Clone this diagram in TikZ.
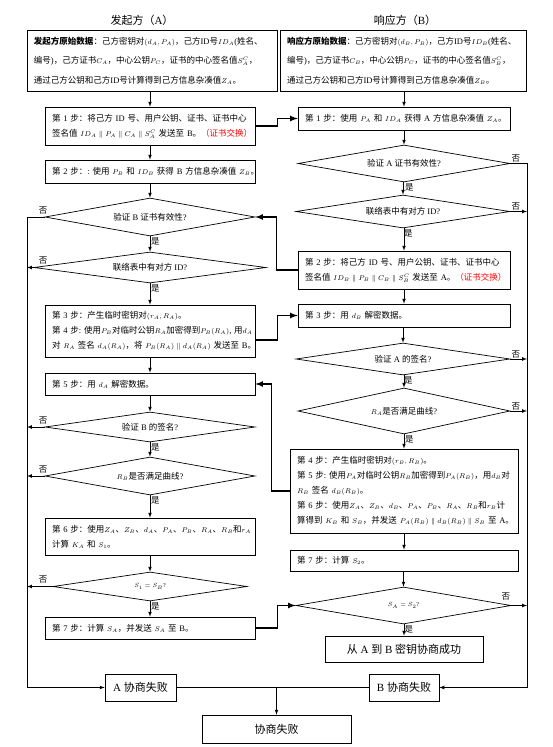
\documentclass[tikz,border=0pt]{standalone}
\usepackage{fontspec}
\setmainfont{Liberation Serif}
\newfontfamily\cjk{Noto Sans CJK SC}
\usetikzlibrary{shapes.geometric}
% Chinese characters in the CJK font, the rest in the main font
\XeTeXinterchartokenstate=1
\newXeTeXintercharclass\cjkclass
\newcount\cjkcnt
\def\cjkrange#1#2{\cjkcnt=#1\relax
  \loop\XeTeXcharclass\cjkcnt=\cjkclass\relax
  \ifnum\cjkcnt<#2\relax\advance\cjkcnt by 1\repeat}
\cjkrange{"3000}{"303F}
\cjkrange{"4E00}{"9FFF}
\cjkrange{"FF00}{"FFEF}
\XeTeXinterchartoks 0 \cjkclass = {\begingroup\cjk}
\XeTeXinterchartoks 4095 \cjkclass = {\begingroup\cjk}
\XeTeXinterchartoks \cjkclass 0 = {\endgroup}
\XeTeXinterchartoks \cjkclass 4095 = {\endgroup}
\relpenalty=10000
\binoppenalty=10000
\DeclareMathSizes{8.5}{7}{5}{5}
\newcommand\stepfont{\fontsize{8.5}{15}\selectfont}
\newcommand\datafont{\fontsize{8.5}{19.5}\selectfont}
\newcommand\bigfont{\fontsize{11}{13}\selectfont}
\begin{document}
\begin{tikzpicture}[x=1pt,y=-1pt,>=latex,
    box/.style={draw,line width=0.7pt,align=left,inner xsep=7pt,inner ysep=1pt,font=\stepfont},
    dia/.style={draw,line width=0.7pt,shape=diamond,aspect=6,inner sep=0pt,font=\stepfont},
    endbox/.style={draw,line width=0.7pt,inner sep=1pt,font=\bigfont},
    lbl/.style={inner sep=1pt,font=\stepfont},
    arr/.style={line width=0.7pt,->},
    thk/.style={line width=1.6pt,->}]
    \useasboundingbox (0,0) rectangle (553,747);
    %% Titles
    \node[font=\bigfont] (tA) at (142,20) {发起方（A）};
    \node[font=\bigfont] (tB) at (405,20) {响应方（B）};
    %% Initiator A
    \node[box,text width=236pt,minimum height=61pt,font=\datafont] (A0) at (152,60.5)
        {\textbf{发起方原始数据}：己方密钥对$(d_A,P_A)$，己方ID号$ID_A$(姓名、\\
         编号)，己方证书$C_A$，中心公钥$P_C$，证书的中心签名值$S_A^C$，\\
         通过己方公钥和己方ID号计算得到己方信息杂凑值$Z_A$。};
    \node[box,text width=196pt,minimum height=38pt] (A1) at (150,126)
        {第~1~步：将己方~ID~号、用户公钥、证书、证书中心\\
         签名值~$ID_A\parallel P_A\parallel C_A\parallel S_A^C$~发送至~B。{\color{red}（证书交换）}};
    \node[box,text width=196pt,minimum height=23pt] (A2) at (150,171.5)
        {第~2~步：:~使用~$P_B$~和~$ID_B$~获得~B~方信息杂凑值~$Z_B$。};
    \node[dia,minimum width=210pt,minimum height=38pt] (DA1) at (150,217) {验证~B~证书有效性?};
    \node[dia,minimum width=232pt,minimum height=31pt] (DA2) at (150,267.5) {联络表中有对方~ID?};
    \node[box,text width=196pt,minimum height=52pt] (A3) at (150,331)
        {第~3~步：产生临时密钥对$(r_A,R_A)$。\\
         第~4~步:~使用$P_B$对临时公钥$R_A$加密得到$P_B(R_A)$,~用$d_A$\\
         对~$R_A$~签名~$d_A(R_A)$，将~$P_B(R_A)\parallel d_A(R_A)$~发送至~B。};
    \node[box,text width=196pt,minimum height=22pt] (A5) at (150,384)
        {第~5~步：用~$d_A$~解密数据。};
    \node[dia,minimum width=210pt,minimum height=30pt] (DA3) at (150,427) {验证~B~的签名?};
    \node[dia,minimum width=210pt,minimum height=38pt] (DA4) at (150,476) {$R_B$是否满足曲线?};
    \node[box,text width=196pt,minimum height=37pt] (A6) at (150,536.5)
        {第~6~步：使用$Z_A$、$Z_B$、$d_A$、$P_A$、$P_B$、$R_A$、$R_B$和$r_A$\\
         计算~$K_A$~和~$S_1$。};
    \node[dia,minimum width=194pt,minimum height=29pt,font=\fontsize{6}{7}\selectfont] (DA5) at (150,586.5) {$S_1=S_B$?};
    \node[box,text width=196pt,minimum height=22pt] (A7) at (150,628)
        {第~7~步：计算~$S_A$，并发送~$S_A$~至~B。};
    %% Responder B
    \node[box,text width=232pt,minimum height=61pt,font=\datafont] (B0) at (403,60.5)
        {\textbf{响应方原始数据}：己方密钥对$(d_B,P_B)$，己方ID号$ID_B$(姓名、\\
         编号)，己方证书$C_B$，中心公钥$P_C$，证书的中心签名值$S_B^C$，\\
         通过己方公钥和己方ID号计算得到己方信息杂凑值$Z_B$。};
    \node[box,text width=198pt,minimum height=23pt] (B1) at (404,118.5)
        {第~1~步：使用~$P_A$~和~$ID_A$~获得~A~方信息杂凑值~$Z_A$。};
    \node[dia,minimum width=212pt,minimum height=37pt] (DB1) at (404,163.5) {验证~A~证书有效性?};
    \node[dia,minimum width=214pt,minimum height=33pt] (DB2) at (403,211.5) {联络表中有对方~ID?};
    \node[box,text width=198pt,minimum height=38pt] (B2) at (404,270)
        {第~2~步：将己方~ID~号、用户公钥、证书、证书中心\\
         签名值~$ID_B\parallel P_B\parallel C_B\parallel S_B^C$~发送至~A。{\color{red}（证书交换）}};
    \node[box,text width=198pt,minimum height=23pt] (B3) at (404,315.5)
        {第~3~步：用~$d_B$~解密数据。};
    \node[dia,minimum width=214pt,minimum height=32pt] (DB3) at (403,359) {验证~A~的签名?};
    \node[dia,minimum width=212pt,minimum height=46pt] (DB4) at (404,411) {$R_A$是否满足曲线?};
    \node[box,text width=214pt,minimum height=84pt] (B4) at (404,491)
        {第~4~步：产生临时密钥对$(r_B,R_B)$。\\
         第~5~步:~使用$P_A$对临时公钥$R_B$加密得到$P_A(R_B)$，用$d_B$对\\
         $R_B$~签名~$d_B(R_B)$。\\
         第~6~步：使用$Z_A$、$Z_B$、$d_B$、$P_A$、$P_B$、$R_A$、$R_B$和$r_B$计\\
         算得到~$K_B$~和~$S_B$，并发送~$P_A(R_B)\parallel d_B(R_B)\parallel S_B$~至~A。};
    \node[box,text width=214pt,minimum height=21pt] (B7) at (404,560.5)
        {第~7~步：计算~$S_2$。};
    \node[dia,minimum width=215pt,minimum height=37pt,font=\fontsize{6}{7}\selectfont] (DB5) at (403.5,605.5) {$S_A=S_2$?};
    \node[endbox,minimum width=158pt,minimum height=26pt] (Succ) at (404,649) {从~A~到~B~密钥协商成功};
    %% Failures
    \node[endbox,minimum width=71pt,minimum height=27pt] (Afail) at (140.5,687.5) {A~协商失败};
    \node[endbox,minimum width=70pt,minimum height=27pt] (Bfail) at (404,687.5) {B~协商失败};
    \node[endbox,minimum width=149pt,minimum height=28pt] (Final) at (276.5,729) {协商失败};
    %% Main flow
    \foreach \a/\b in {A0/A1,A1/A2,A2/DA1,DA1/DA2,DA2/A3,A3/A5,A5/DA3,DA3/DA4,DA4/A6,A6/DA5,DA5/A7,
                       B0/B1,B1/DB1,DB1/DB2,DB2/B2,B2/B3,B3/DB3,DB3/DB4,DB4/B4,B4/B7,B7/DB5,DB5/Succ}
        \draw[arr] (\b.north |- \a.south) -- (\b.north);
    \foreach \d in {DA1,DA2,DA3,DA4,DA5,DB1,DB2,DB3,DB4,DB5}
        \node[lbl,anchor=north west] at (\d.south) {是};
    %% No branches
    \coordinate (lft) at (27,217);
    \coordinate (rgt) at (527,163.5);
    \coordinate (nox) at (43,0);
    \draw[arr] (DA1.west) -- (lft) |- (Afail.west);
    \draw[arr] (DB1.east) -- (rgt) |- (Bfail.east);
    \foreach \d in {DA2,DA3,DA4,DA5}
        \draw[arr] (\d.west) -- (\d.west -| lft);
    \foreach \d in {DB2,DB3,DB4,DB5}
        \draw[arr] (\d.east) -- (\d.east -| rgt);
    \foreach \d in {DA1,DA2,DA3,DA4,DA5}
        \node[lbl,anchor=south,yshift=2pt] at (\d.west -| nox) {否};
    \foreach \d in {DB1,DB2,DB3,DB4}
        \node[lbl,anchor=south west] at (\d.east) {否};
    \node[lbl,anchor=south east,yshift=4pt] at (DB5.east) {否};
    \draw[arr] (Afail.east) -| (Final.north);
    \draw[line width=0.7pt] (Bfail.west) -- (Bfail.west -| Final.north);
    %% Messages between A and B
    \draw[thk] (A1.east) -- ++(22,0) |- (B1.west);
    \draw[thk] (B2.west) -- ++(-21,0) |- (DA1.east);
    \draw[thk] ([yshift=-9pt]A3.east) -- ++(22,0) |- (B3.west);
    \draw[thk] (B4.west) -- ++(-18,0) |- (A5.east);
    \draw[thk] (A7.east) -- ++(22,0) |- (DB5.west);
\end{tikzpicture}
\end{document}
